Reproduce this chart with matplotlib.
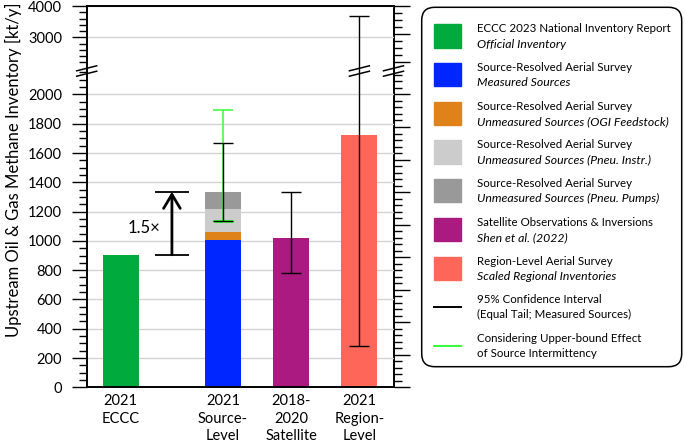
import matplotlib
matplotlib.use("Agg")
import matplotlib.pyplot as plt
from matplotlib.patches import FancyBboxPatch, Rectangle
from matplotlib.lines import Line2D
from matplotlib.ticker import MultipleLocator, FixedLocator, NullFormatter

plt.rcParams["font.family"] = ["Lato", "DejaVu Sans"]

# ---- data (kt/y) ----
positions = [0, 1.5, 2.5, 3.5]
tick_labels = ["2021\nECCC", "2021\nSource-\nLevel", "2018-\n2020\nSatellite",
               "2021\nRegion-\nLevel"]
eccc = 905
source_parts = [1008, 50, 160, 117]   # measured, OGI feedstock, pneu. instr., pneu. pumps
satellite = 1020
region = 1722
ci_x = [1.5, 2.5, 3.5]
ci_lo = [1139, 782, 284]
ci_hi = [1668, 1335, 3690]
intermittency_lo = 1139
intermittency_hi = 1897
ratio_lo, ratio_hi = 905, 1335
ratio_label = "1.5\u00d7"

C_ECCC = "#00aa3c"
C_MEAS = "#0026ff"
C_OGI = "#df821a"
C_INSTR = "#cccccc"
C_PUMPS = "#999999"
C_SAT = "#aa1a80"
C_REG = "#ff665a"
C_INT = "#33ff33"
source_colors = [C_MEAS, C_OGI, C_INSTR, C_PUMPS]

W, H, DPI = 685, 442, 100
fig = plt.figure(figsize=(W / DPI, H / DPI), dpi=DPI)

x_l, x_r = 86.7, 393.5
y_bot, y_brk, y_top = 387.3, 71.0, 6.0
ax_lo = fig.add_axes([x_l / W, 1 - y_bot / H, (x_r - x_l) / W, (y_bot - y_brk) / H])
ax_up = fig.add_axes([x_l / W, 1 - y_brk / H, (x_r - x_l) / W, (y_brk - y_top) / H])

bar_w = 0.53
for ax in (ax_lo, ax_up):
    ax.set_axisbelow(True)
    ax.set_xlim(-0.5, 4.0)
    ax.grid(axis="y", which="major", color="#d3d3d3", lw=1.0)
    for s in ax.spines.values():
        s.set_linewidth(1.4)
    ax.spines["right"].set_visible(False)
    ax.tick_params(axis="y", which="major", length=10.8, width=1.0, pad=7,
                   labelsize=10.5)
    ax.tick_params(axis="y", which="minor", length=6, width=1.0)

# bars (only the lower panel reaches them)
ax_lo.bar(positions[0], eccc, bar_w, color=C_ECCC)
bottom = 0
for v, c in zip(source_parts, source_colors):
    ax_lo.bar(positions[1], v, bar_w, bottom=bottom, color=c)
    bottom += v
ax_lo.bar(positions[2], satellite, bar_w, color=C_SAT)
ax_lo.bar(positions[3], region, bar_w, color=C_REG)

# intermittency upper bound (green) under the black CI
ax_lo.errorbar(positions[1], intermittency_lo,
               yerr=[[0], [intermittency_hi - intermittency_lo]],
               fmt="none", ecolor=C_INT, elinewidth=1.1, capsize=7, capthick=1.1)
ax_lo.hlines(intermittency_lo - 4, positions[1] - 0.14, positions[1] + 0.14,
             color=C_INT, lw=2.0)
for ax in (ax_lo, ax_up):
    for x, lo, hi in zip(ci_x, ci_lo, ci_hi):
        ax.errorbar(x, lo, yerr=[[0], [hi - lo]], fmt="none", ecolor="black",
                    elinewidth=1.0, capsize=7, capthick=1.0)

# ratio arrow
ax_lo.hlines([ratio_lo, ratio_hi], 0.5, 1.0, color="black", lw=1.3)
ax_lo.annotate("", xy=(0.75, ratio_hi), xytext=(0.75, ratio_lo),
               arrowprops=dict(arrowstyle="->,head_length=1.0,head_width=0.6",
                               lw=2.0, color="black", shrinkA=0, shrinkB=0))
ax_lo.text(0.34, (ratio_lo + ratio_hi) / 2 - 30, ratio_label, ha="center",
           va="center", fontsize=12)

ax_lo.set_ylim(0, 2160)
ax_lo.yaxis.set_major_locator(MultipleLocator(200))
ax_lo.yaxis.set_minor_locator(MultipleLocator(50))
ax_lo.spines["top"].set_visible(False)
ax_lo.set_xticks(positions, tick_labels, fontsize=10.5, linespacing=1.3)
ax_lo.tick_params(axis="x", length=0, pad=5)

ax_up.set_ylim(1920, 4000)
ax_up.yaxis.set_major_locator(FixedLocator([3000, 4000]))
ax_up.yaxis.set_minor_locator(FixedLocator([2200, 2400, 2600, 2800, 3200, 3400, 3600, 3800]))
ax_up.spines["bottom"].set_visible(False)
ax_up.set_xticks([])

# unlabeled secondary scale on the right
f_r = 222.2
for ax, majors, minors in ((ax_lo, MultipleLocator(1), MultipleLocator(0.2)),
                           (ax_up, FixedLocator([10, 14, 18]),
                            FixedLocator([11, 12, 13, 15, 16, 17]))):
    sec = ax.secondary_yaxis("right", functions=(lambda v: v / f_r, lambda v: v * f_r))
    sec.yaxis.set_major_locator(majors)
    sec.yaxis.set_minor_locator(minors)
    sec.yaxis.set_major_formatter(NullFormatter())
    sec.tick_params(which="major", length=11.5, width=1.0)
    sec.tick_params(which="minor", length=6, width=1.0)
    sec.spines["right"].set_linewidth(1.4)

fig.text(13 / W, 1 - 170 / H, "Upstream Oil & Gas Methane Inventory [kt/y]",
         rotation=90, ha="center", va="center", fontsize=12)


def P(x, y):
    return (x / DPI, (H - y) / DPI)


tr = fig.dpi_scale_trans

# axis break marks
fig.canvas.draw()
xe = ax_lo.transData.transform((positions[3], 0))[0]
for xc in (x_l, xe, x_r):
    for dy in (-2.7, 2.7):
        yc = y_brk + dy
        fig.add_artist(Line2D([(xc - 10) / DPI, (xc + 10) / DPI],
                              [(H - yc - 2.5) / DPI, (H - yc + 2.5) / DPI],
                              transform=tr, color="black", lw=1.1))

# legend
box = FancyBboxPatch(P(421.7, 366.7), (681.7 - 421.7) / DPI, (366.7 - 7.3) / DPI,
                     boxstyle="round,pad=0,rounding_size=0.13", transform=tr,
                     fc="white", ec="black", lw=1.1)
fig.add_artist(box)

entries = [
    ("patch", C_ECCC, "ECCC 2023 National Inventory Report", "Official Inventory", True),
    ("patch", C_MEAS, "Source-Resolved Aerial Survey", "Measured Sources", True),
    ("patch", C_OGI, "Source-Resolved Aerial Survey", "Unmeasured Sources (OGI Feedstock)", True),
    ("patch", C_INSTR, "Source-Resolved Aerial Survey", "Unmeasured Sources (Pneu. Instr.)", True),
    ("patch", C_PUMPS, "Source-Resolved Aerial Survey", "Unmeasured Sources (Pneu. Pumps)", True),
    ("patch", C_SAT, "Satellite Observations & Inversions", "Shen et al. (2022)", True),
    ("patch", C_REG, "Region-Level Aerial Survey", "Scaled Regional Inventories", True),
    ("line", "black", "95% Confidence Interval", "(Equal Tail; Measured Sources)", False),
    ("line", C_INT, "Considering Upper-bound Effect", "of Source Intermittency", False),
]
y0, dy = 36.0, 38.7
for i, (kind, col, l1, l2, ital) in enumerate(entries):
    yc = y0 + i * dy
    if kind == "patch":
        fig.add_artist(Rectangle(P(434, yc + 11.6), 27 / DPI, 23.3 / DPI,
                                 transform=tr, color=col))
    else:
        fig.add_artist(Line2D([434 / DPI, 461 / DPI], [(H - yc) / DPI] * 2,
                              transform=tr, color=col, lw=1.4))
    fig.text(*P(477, yc - 7.2), l1, transform=tr, ha="left", va="center", fontsize=8.3)
    fig.text(*P(477, yc + 8.0), l2, transform=tr, ha="left", va="center",
             fontsize=8.8 if ital else 8.3,
             fontstyle="italic" if ital else "normal")

fig.savefig("out.png", dpi=DPI)
